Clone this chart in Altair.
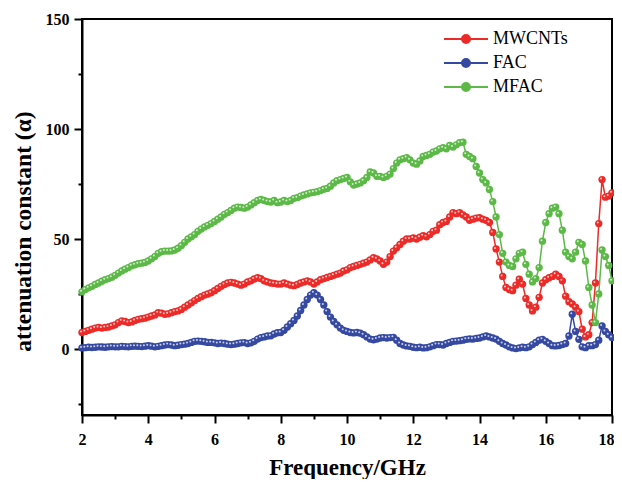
import altair as alt
import pandas as pd

series_names = ["MWCNTs", "FAC", "MFAC"]
series_colors = ["#ec2b28", "#3549a2", "#5cb947"]

# frequency grid, 2.0 ... 18.0 GHz in 0.1 GHz steps
freq = [round(2 + 0.1 * i, 1) for i in range(161)]

mwcnts = [
    7.5, 8.0, 8.5, 9.0, 9.5, 9.8, 9.5, 9.8, 10.0, 10.5,
    11.0, 12.0, 12.8, 12.5, 12.0, 12.3, 13.0, 13.5, 13.8, 14.0,
    14.5, 15.0, 15.5, 16.5, 16.3, 15.8, 16.0, 16.5, 17.0, 17.3,
    18.0, 19.0, 20.0, 21.0, 22.0, 23.0, 23.8, 24.5, 25.0, 25.6,
    26.5, 27.5, 28.5, 29.3, 30.0, 30.3, 30.0, 29.5, 29.0, 29.5,
    30.5, 31.0, 31.8, 32.4, 32.0, 31.0, 30.5, 30.0, 29.8, 29.5,
    29.5, 30.0, 29.5, 29.0, 28.8, 29.3, 30.0, 30.5, 31.0, 30.5,
    29.5, 30.5, 31.5, 32.0, 32.5, 33.0, 33.5, 34.0, 34.5, 35.5,
    36.0, 37.0, 37.5, 38.0, 38.5, 39.0, 39.5, 40.5, 41.5, 41.0,
    40.0, 38.5, 39.5, 42.0, 44.5, 46.0, 47.5, 49.0, 50.0, 50.0,
    50.5, 50.0, 50.8, 51.5, 51.0, 52.0, 53.5, 54.0, 56.5, 57.5,
    58.0, 60.0, 62.0, 61.5, 62.0, 61.0, 60.0, 58.5, 59.0, 59.5,
    59.7, 59.0, 58.5, 57.5, 53.0, 45.5, 39.5, 33.0, 28.0, 27.0,
    26.5, 29.0, 31.7, 29.5, 23.0, 20.0, 17.3, 19.0, 23.5, 30.0,
    31.5, 32.4, 33.0, 34.0, 33.0, 31.0, 24.0, 21.5, 20.5, 19.0,
    17.0, 9.0, 5.5, 6.5, 12.0, 30.0, 57.0, 77.0, 69.0, 69.5,
    71.0,
]

fac = [
    0.5, 0.6, 0.8, 0.7, 0.8, 1.0, 0.9, 0.8, 1.0, 1.1,
    1.0, 1.0, 1.2, 1.1, 1.0, 1.2, 1.3, 1.2, 1.1, 1.3,
    1.5, 1.3, 1.0, 1.2, 1.5, 1.8, 2.0, 1.8, 1.5, 1.7,
    2.0, 2.2, 2.5, 3.0, 3.5, 3.6, 3.5, 3.3, 3.0, 3.0,
    2.8, 2.5, 2.7, 2.5, 2.2, 2.0, 2.2, 2.5, 2.8, 2.9,
    2.5, 2.8, 3.5, 4.5, 5.2, 5.5, 5.9, 6.0, 6.8, 7.4,
    7.5, 8.5, 10.0, 11.5, 13.0, 15.0, 17.5, 20.0, 22.5, 24.5,
    25.6, 24.5, 22.5, 20.0, 17.0, 14.5, 12.5, 11.0, 9.5, 8.5,
    8.0, 7.5, 7.3, 7.5, 7.2, 6.5, 5.5, 4.5, 4.2, 4.5,
    5.0, 5.2, 5.0, 5.2, 5.3, 4.0, 2.5, 1.8, 1.4, 1.2,
    0.8, 0.6, 0.8, 0.5, 0.6, 1.0, 1.5, 2.0, 2.0, 1.8,
    2.5, 3.0, 3.5, 3.6, 3.8, 4.0, 4.4, 4.6, 4.5, 4.8,
    5.0, 5.5, 5.9, 5.5, 5.0, 4.5, 3.5, 2.5, 1.8, 1.0,
    0.5, 0.2, 0.5, 0.8, 0.6, 1.0, 2.0, 3.0, 4.0, 4.4,
    3.5, 2.5, 1.5, 1.4, 1.6, 2.0, 2.5, 5.9, 15.8, 8.0,
    4.4, 1.0, 0.6, 1.5, 1.5, 2.0, 4.0, 10.5, 8.0, 6.5,
    5.2,
]

mfac = [
    26.0, 27.0, 27.8, 28.5, 29.3, 30.0, 30.8, 31.5, 32.0, 32.6,
    33.5, 34.5, 35.5, 36.3, 37.0, 37.8, 38.3, 38.8, 39.0, 39.3,
    40.0, 41.0, 42.0, 43.5, 44.2, 44.5, 44.5, 44.6, 45.0, 45.8,
    47.0, 48.5, 50.0, 51.0, 52.0, 53.5, 54.5, 55.5, 56.2, 57.0,
    58.0, 59.0, 60.0, 61.2, 62.0, 63.0, 64.0, 64.5, 64.3, 64.0,
    64.5, 65.5, 66.5, 67.5, 68.0, 67.5, 67.0, 66.8, 67.5, 66.5,
    66.8, 67.5, 67.0, 67.5, 68.5, 68.8, 69.5, 70.0, 70.5, 71.0,
    71.2, 71.5, 72.0, 72.6, 73.0, 74.0, 75.5, 76.5, 77.0, 77.5,
    78.0, 76.0, 74.5, 75.0, 75.5, 76.5, 78.0, 80.5, 80.0, 78.5,
    78.5, 78.0, 78.5, 79.5, 82.0, 84.5, 86.0, 86.5, 87.0, 86.0,
    84.5, 84.0, 85.5, 87.5, 88.0, 88.5, 89.5, 90.0, 91.0, 91.5,
    91.0, 92.5, 91.8, 92.8, 93.8, 94.0, 88.5, 87.5, 86.5, 83.0,
    80.0, 77.0, 75.5, 72.5, 67.0, 60.0, 52.0, 43.5, 39.5, 38.0,
    37.5, 41.0, 43.5, 44.0, 38.5, 34.0, 30.5, 32.0, 37.0, 49.0,
    57.5, 61.5, 64.0, 64.5, 61.5, 54.0, 44.0, 42.0, 41.0, 44.0,
    48.5, 47.5, 40.0, 28.0, 20.0, 12.0, 25.0, 45.0, 42.0, 38.0,
    31.0,
]

x_ticks = list(range(2, 19))
y_ticks = [-25, 0, 25, 50, 75, 100, 125, 150]

rows = []
for name, vals in zip(series_names, [mwcnts, fac, mfac]):
    for f, v in zip(freq, vals):
        rows.append({"series": name, "freq": f, "value": v})
df = pd.DataFrame(rows)

FONT = "Liberation Serif"

color_scale = alt.Scale(domain=series_names, range=series_colors)

legend_path = "M-4.4,0L4.4,0M0.8,0A0.8,0.8,0,1,1,-0.8,0A0.8,0.8,0,1,1,0.8,0Z"
leg = alt.Legend(
    title=None,
    orient="none",
    legendX=375,
    legendY=11,
    symbolType=legend_path,
    symbolSize=100,
    symbolStrokeWidth=2,
    labelFont=FONT,
    labelFontSize=18,
    labelColor="black",
    labelOffset=18,
    rowPadding=6,
    padding=0,
    labelExpr="datum.label == 'MWCNTs' ? '\u00a0MWCNTs' : datum.label",
)

x_enc = alt.X(
    "freq:Q",
    scale=alt.Scale(domain=[2, 18], nice=False, zero=False),
    axis=alt.Axis(
        title="Frequency/GHz",
        values=x_ticks,
        labelExpr="datum.value % 2 == 0 ? datum.label : ''",
        tickSize={"condition": {"test": "datum.value % 2 == 0", "value": 8}, "value": 4},
        labelOffset={"condition": {"test": "datum.value == 18", "value": -6}, "value": 0},
        labelFlush=False,
        labelPadding=8,
        titleX=265,
        titleY=59,
        titleBaseline="alphabetic",
        titleFontSize=23,
    ),
)
y_enc = alt.Y(
    "value:Q",
    scale=alt.Scale(domain=[-30, 150], nice=False, zero=False),
    axis=alt.Axis(
        title="attenuation constant (α)",
        values=y_ticks,
        labelExpr="datum.value % 50 == 0 ? datum.label : ''",
        tickSize={"condition": {"test": "datum.value % 50 == 0", "value": 8}, "value": 4},
        labelFlush=False,
        labelPadding=5,
        titleX=-52,
        titleY=212,
        titleAngle=270,
        titleAlign="center",
        titleBaseline="alphabetic",
        titleFontSize=23.5,
    ),
)

base = alt.Chart(df)
lines = base.mark_line(strokeWidth=1.5).encode(
    x=x_enc, y=y_enc,
    stroke=alt.Stroke("series:N", scale=color_scale, legend=leg),
)
points = base.mark_point(filled=True, size=54, opacity=1, strokeWidth=0).encode(
    x=x_enc, y=y_enc,
    fill=alt.Fill("series:N", scale=color_scale, legend=leg),
    stroke=alt.Stroke("series:N", scale=color_scale, legend=leg),
)
highlights = base.mark_point(
    filled=True, size=4, color="white", opacity=0.75, xOffset=-1, yOffset=-1
).encode(x=x_enc, y=y_enc)

chart = (
    alt.layer(lines, points, highlights)
    .properties(
        width=530,
        height=396,
        background="white",
        autosize=alt.AutoSizeParams(type="none"),
        padding={"left": 74, "top": 11, "right": 2, "bottom": 64},
    )
    .configure_view(stroke="black", strokeWidth=2)
    .configure_axis(
        grid=False,
        domainColor="black",
        domainWidth=2,
        tickColor="black",
        tickWidth=2,
        labelFont=FONT,
        labelFontSize=16,
        labelFontWeight="bold",
        labelColor="black",
        titleFont=FONT,
        titleFontSize=22,
        titleFontWeight="bold",
        titleColor="black",
    )
)

chart.save("out.html", embed_options={"renderer": "svg", "actions": False})
